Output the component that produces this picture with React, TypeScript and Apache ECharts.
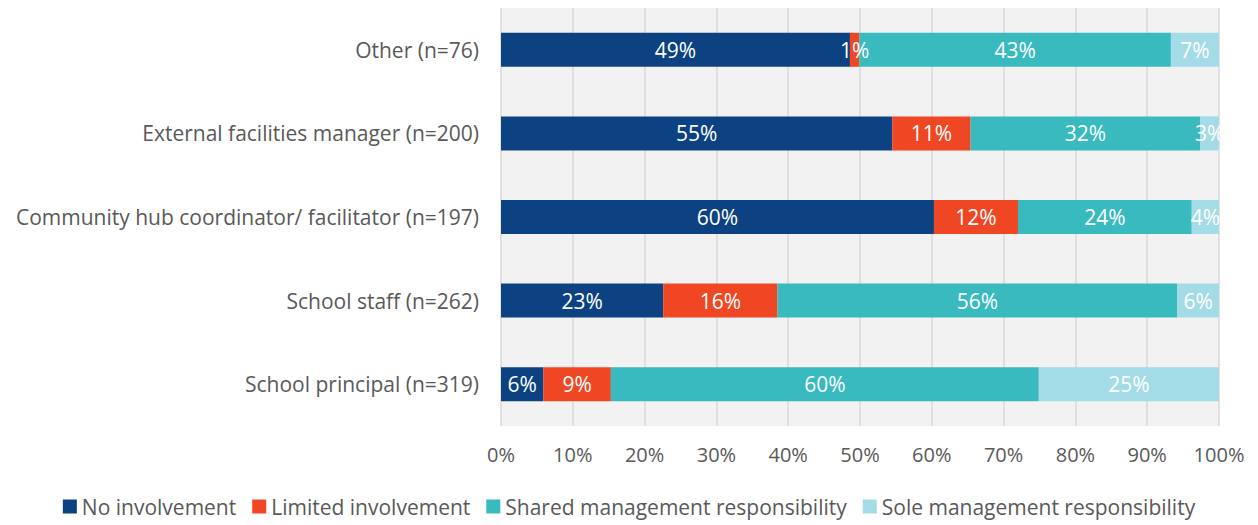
import React, { useEffect, useRef } from "react";
import * as echarts from "echarts";

const categories = [
  "School principal (n=319)",
  "School staff (n=262)",
  "Community hub coordinator/ facilitator (n=197)",
  "External facilities manager (n=200)",
  "Other (n=76)",
];
const noInvolvement = [5.9, 22.6, 60.3, 54.5, 48.6];
const limitedInvolvement = [9.4, 15.9, 11.7, 10.9, 1.3];
const sharedResponsibility = [59.6, 55.7, 24.2, 32.0, 43.4];
const soleResponsibility = [25.1, 5.8, 3.8, 2.6, 6.7];
const seriesNames = [
  "No involvement",
  "Limited involvement",
  "Shared management responsibility",
  "Sole management responsibility",
];
const colors = ["#0c4281", "#ef4623", "#38babf", "#a3dbe6"];

const FONT = "'Open Sans', sans-serif";

export default function App() {
  const ref = useRef<HTMLDivElement>(null);
  useEffect(() => {
    document.body.style.margin = "0";
    const chart = echarts.init(ref.current!, null, { renderer: "svg" });
    const values = [noInvolvement, limitedInvolvement, sharedResponsibility, soleResponsibility];
    chart.setOption({
      animation: false,
      color: colors,
      textStyle: { fontFamily: FONT },
      grid: {
        left: 501,
        right: 39,
        top: 8,
        bottom: 99,
        show: true,
        backgroundColor: "#f2f2f2",
        borderWidth: 0,
      },
      legend: {
        bottom: 3,
        left: "center",
        itemWidth: 14,
        itemHeight: 14,
        itemGap: 16,
        icon: "rect",
        textStyle: { fontSize: 21, color: "#595959", fontFamily: FONT },
        data: seriesNames,
      },
      xAxis: {
        type: "value",
        min: 0,
        max: 100,
        interval: 10,
        axisLine: { show: false },
        axisTick: { show: false },
        splitLine: { show: true, lineStyle: { color: "#d9d9d9", width: 1.5 } },
        axisLabel: {
          formatter: "{value}%",
          fontSize: 20,
          color: "#595959",
          margin: 18,
          fontFamily: FONT,
        },
      },
      yAxis: {
        type: "category",
        data: categories,
        axisLine: { show: false },
        axisTick: { show: false },
        axisLabel: { fontSize: 21, color: "#595959", margin: 22, fontFamily: FONT },
      },
      series: seriesNames.map((name, i) => ({
        name,
        type: "bar",
        stack: "total",
        barWidth: 34,
        data: values[i],
        itemStyle: { color: colors[i] },
        label: {
          show: true,
          position: "inside",
          color: "#ffffff",
          fontSize: 21,
          fontFamily: FONT,
          formatter: (p: any) => Math.round(p.value) + "%",
        },
      })),
    });
    return () => chart.dispose();
  }, []);
  return <div ref={ref} style={{ width: 1258, height: 525 }} />;
}
